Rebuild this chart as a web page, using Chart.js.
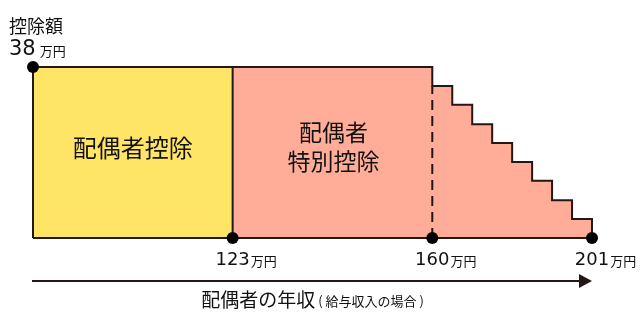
<!DOCTYPE html>
<html>

<head>
    <title>配偶者控除</title>
    <script src="https://cdn.jsdelivr.net/npm/chart.js@4"></script>
    <style>
        body { margin: 0; background: #fff; }
        #wrap { width: 640px; height: 330px; }
    </style>
</head>

<body>
    <div id="wrap"><canvas id="chart" width="640" height="330"></canvas></div>
    <script>
        // schematic x positions (the picture is not to scale) for income 0 / 123 / 160 / 201 万円
        const incomeTicks = ['0', '123', '160', '201'];
        const tickPos = [0, 10, 20, 28];
        const maxDeduction = 38;
        // stepped part of 配偶者特別控除, one value per step starting at 160万円
        const stepPos = [20, 21, 22, 23, 24, 25, 26, 27, 28];
        const stepValues = [38, 33.8, 29.6, 25.3, 21.1, 16.9, 12.7, 8.4, 4.2];

        const dark = '#231815';
        const yellow = '#FFE566';
        const pink = '#FFAD98';
        const jp = '"Noto Sans CJK JP", "Noto Sans", sans-serif';
        const num = '"DejaVu Sans", sans-serif';

        const yellowData = [
            { x: tickPos[0], y: 0 },
            { x: tickPos[0], y: maxDeduction },
            { x: tickPos[1], y: maxDeduction },
            { x: tickPos[1], y: 0 },
        ];
        const pinkData = [{ x: tickPos[1], y: maxDeduction }]
            .concat(stepPos.map((p, i) => ({ x: p, y: stepValues[i] })))
            .concat([{ x: tickPos[3], y: 0 }]);
        const dashData = [{ x: tickPos[2], y: 0 }, { x: tickPos[2], y: stepValues[1] }];
        const baseData = [{ x: tickPos[0], y: 0 }, { x: tickPos[3], y: 0 }];
        const dotData = [
            { x: tickPos[0], y: maxDeduction },
            { x: tickPos[1], y: 0 },
            { x: tickPos[2], y: 0 },
            { x: tickPos[3], y: 0 },
        ];

        // texts: labels inside areas, tick labels, y label and the arrow with its title
        const labelPlugin = {
            id: 'labels',
            afterDatasetsDraw(chart) {
                const ctx = chart.ctx;
                const xs = chart.scales.x, ys = chart.scales.y;
                const area = chart.chartArea;
                ctx.save();
                ctx.fillStyle = '#111';

                // area names
                ctx.textAlign = 'center';
                ctx.textBaseline = 'middle';
                ctx.font = '24px ' + jp;
                const yMid = ys.getPixelForValue(maxDeduction / 2);
                ctx.fillText('配偶者控除', (xs.getPixelForValue(tickPos[0]) + xs.getPixelForValue(tickPos[1])) / 2, yMid - 5);
                const px = (xs.getPixelForValue(tickPos[1]) + xs.getPixelForValue(tickPos[2])) / 2 + 1;
                ctx.font = '23px ' + jp;
                ctx.fillText('配偶者', px, yMid - 20);
                ctx.fillText('特別控除', px, yMid + 9);

                // y label
                ctx.textAlign = 'left';
                ctx.font = '18px ' + jp;
                ctx.fillText('控除額', 9, 26);
                ctx.textBaseline = 'alphabetic';
                ctx.font = '21px ' + num;
                ctx.fillText(String(maxDeduction), 9, 55);
                const w38 = ctx.measureText(String(maxDeduction)).width;
                ctx.font = '13px ' + jp;
                ctx.fillText('万円', 9 + w38 + 4, 56);

                // x tick labels
                for (let i = 1; i < incomeTicks.length; i++) {
                    const x = xs.getPixelForValue(tickPos[i]);
                    ctx.font = '18px ' + num;
                    const w = ctx.measureText(incomeTicks[i]).width;
                    ctx.fillText(incomeTicks[i], x - w / 2, 265);
                    ctx.font = '13px ' + jp;
                    ctx.fillText('万円', x + w / 2 + 1, 266);
                }

                // arrow
                const ay = area.bottom + 43;
                ctx.strokeStyle = dark;
                ctx.lineWidth = 2;
                ctx.beginPath();
                ctx.moveTo(area.left - 1, ay);
                ctx.lineTo(area.right - 10, ay);
                ctx.stroke();
                ctx.fillStyle = dark;
                ctx.beginPath();
                ctx.moveTo(area.right - 13, ay - 7);
                ctx.lineTo(area.right, ay);
                ctx.lineTo(area.right - 13, ay + 7);
                ctx.closePath();
                ctx.fill();

                // axis title
                ctx.fillStyle = '#111';
                ctx.textBaseline = 'middle';
                const t1 = '配偶者の年収', t2 = '( 給与収入の場合 )';
                ctx.font = '19px ' + jp;
                const w1 = ctx.measureText(t1).width;
                ctx.font = '13px ' + jp;
                const w2 = ctx.measureText(t2).width;
                const sx = (area.left + area.right) / 2 - (w1 + 3 + w2) / 2;
                ctx.font = '19px ' + jp;
                ctx.fillText(t1, sx, 300);
                ctx.font = '13px ' + jp;
                ctx.fillText(t2, sx + w1 + 3, 301);
                ctx.restore();
            }
        };

        const canvas = document.getElementById('chart');
        const chart = new Chart(canvas, {
            type: 'line',
            data: {
                datasets: [
                    {
                        data: dotData,
                        showLine: false,
                        pointRadius: 6,
                        pointBackgroundColor: '#000',
                        pointBorderWidth: 0,
                        clip: false,
                        order: 0,
                    },
                    {
                        data: dashData,
                        borderColor: dark,
                        borderWidth: 2,
                        borderDash: [10, 6],
                        pointRadius: 0,
                        clip: false,
                        order: 1,
                    },
                    {
                        data: baseData,
                        borderColor: dark,
                        borderWidth: 2,
                        pointRadius: 0,
                        clip: false,
                        order: 2,
                    },
                    {
                        data: yellowData,
                        borderColor: dark,
                        borderWidth: 2,
                        backgroundColor: yellow,
                        fill: 'origin',
                        pointRadius: 0,
                        clip: false,
                        order: 3,
                    },
                    {
                        data: pinkData,
                        stepped: 'after',
                        borderColor: dark,
                        borderWidth: 2,
                        backgroundColor: pink,
                        fill: 'origin',
                        pointRadius: 0,
                        clip: false,
                        order: 4,
                    },
                ],
            },
            options: {
                responsive: false,
                animation: false,
                layout: {
                    padding: { left: 33, right: 48, top: 67, bottom: 92 },
                },
                scales: {
                    x: { type: 'linear', min: 0, max: 28, display: false },
                    y: { type: 'linear', min: 0, max: 38, display: false },
                },
                plugins: {
                    legend: { display: false },
                    tooltip: { enabled: false },
                },
            },
            plugins: [labelPlugin],
        });
    </script>
</body>

</html>
